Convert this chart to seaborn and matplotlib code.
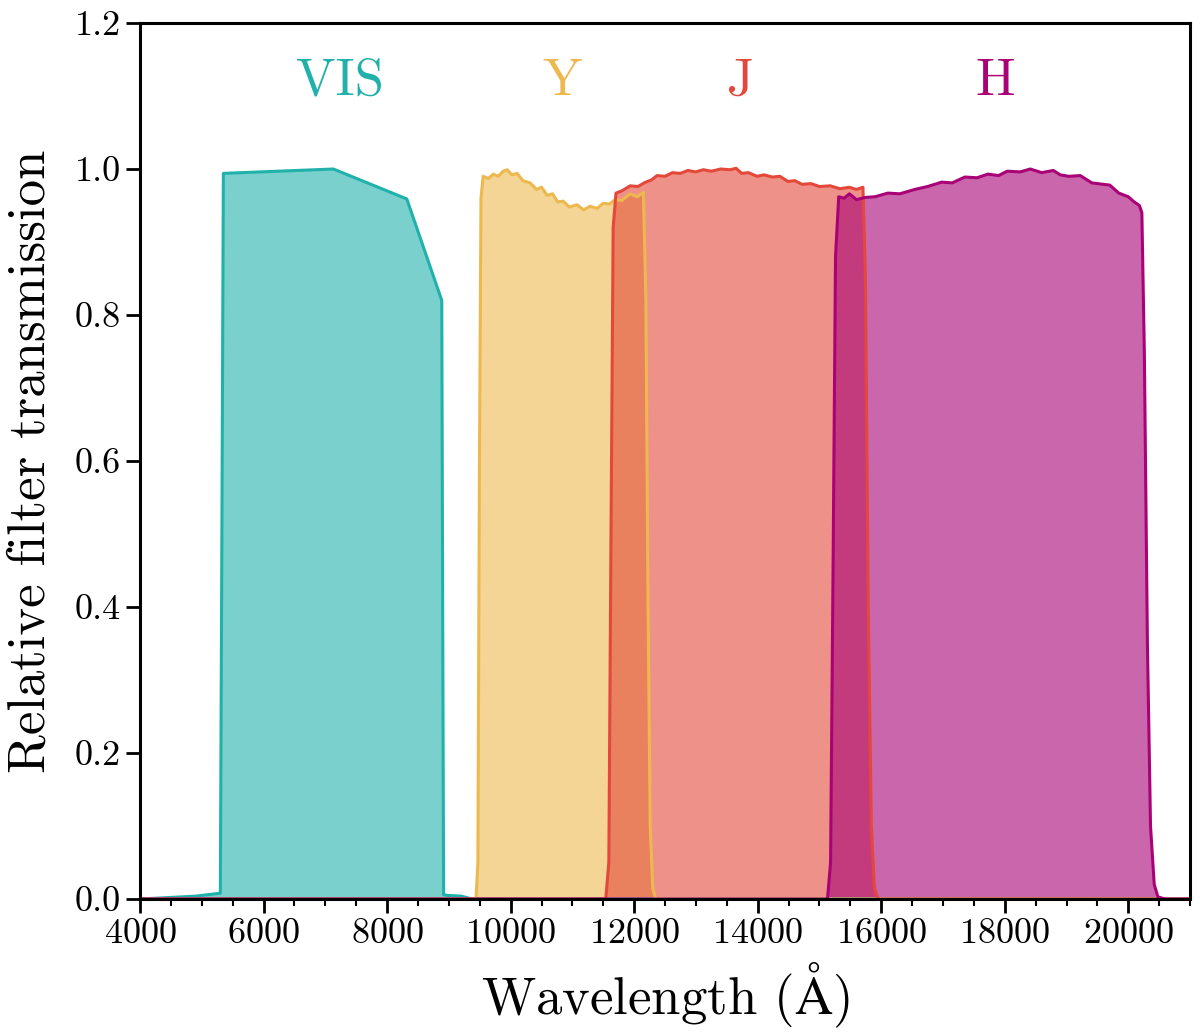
import numpy as np
import matplotlib
matplotlib.use('Agg')
import matplotlib.pyplot as plt
import seaborn as sns

# filter curves (wavelength in Angstrom, relative transmission)
vis_wave = [4000, 4450, 4900, 5300, 5325, 5349, 7130, 8319, 8885, 8900, 8915, 8975, 9200, 9380, 21000]
vis_trans = [0.0, 0.002, 0.004, 0.008, 0.5, 0.994, 1.000, 0.959, 0.820, 0.4, 0.006, 0.005, 0.004, 0.0, 0.0]

y_wave = [4000, 9440, 9470, 9495, 9520, 9555, 9640, 9720, 9800, 9880, 9943, 10020, 10105, 10200, 10316,
          10420, 10500, 10591, 10680, 10760, 10850, 10950, 11077, 11180, 11287, 11400, 11498, 11600,
          11692, 11800, 11935, 12050, 12150, 12190, 12225, 12260, 12300, 12350, 21000]
y_trans = [0.0, 0.0, 0.05, 0.6, 0.96, 0.990, 0.987, 0.993, 0.990, 0.997, 0.999, 0.992, 0.994, 0.984, 0.981,
           0.972, 0.975, 0.964, 0.966, 0.955, 0.956, 0.948, 0.951, 0.944, 0.949, 0.946, 0.953, 0.952,
           0.958, 0.957, 0.966, 0.962, 0.968, 0.82, 0.40, 0.10, 0.015, 0.0, 0.0]

j_wave = [4000, 11540, 11590, 11625, 11660, 11706, 11800, 11935, 12060, 12185, 12280, 12371, 12500,
          12620, 12745, 12870, 12994, 13120, 13250, 13400, 13555, 13650, 13741, 13850, 13990, 14100,
          14240, 14360, 14489, 14600, 14720, 14863, 15000, 15174, 15330, 15485, 15600, 15704, 15745,
          15790, 15840, 15890, 15950, 21000]
j_trans = [0.0, 0.0, 0.05, 0.5, 0.92, 0.967, 0.970, 0.977, 0.976, 0.982, 0.985, 0.991, 0.990,
           0.995, 0.994, 0.998, 0.996, 0.999, 0.997, 1.000, 0.999, 1.001, 0.994, 0.995, 0.990, 0.992,
           0.989, 0.990, 0.983, 0.984, 0.979, 0.980, 0.976, 0.977, 0.973, 0.975, 0.972, 0.975, 0.85,
           0.40, 0.10, 0.015, 0.0, 0.0]

h_wave = [4000, 15130, 15180, 15220, 15260, 15312, 15400, 15485, 15600, 15734, 15900, 16108, 16300,
          16544, 16750, 16980, 17150, 17354, 17550, 17728, 17900, 18039, 18250, 18413, 18599, 18785,
          18900, 19036, 19223, 19409, 19595, 19700, 19846, 20000, 20094, 20180, 20220, 20260, 20310,
          20360, 20420, 20480, 20600, 21000]
h_trans = [0.0, 0.0, 0.05, 0.45, 0.88, 0.962, 0.960, 0.966, 0.958, 0.961, 0.962, 0.967, 0.966,
           0.972, 0.976, 0.982, 0.981, 0.989, 0.988, 0.993, 0.991, 0.997, 0.996, 1.000, 0.995, 0.998,
           0.992, 0.990, 0.991, 0.981, 0.979, 0.978, 0.967, 0.962, 0.955, 0.950, 0.94, 0.75, 0.35,
           0.10, 0.02, 0.003, 0.0, 0.0]

names = ['VIS', 'Y', 'J', 'H']
colours = ['#20b2aa', '#edb94e', '#e3483a', '#a80276']
label_x = [7240, 10830, 13720, 17850]
label_y = 1.12

sns.set_style('ticks')
plt.rcParams['font.family'] = 'serif'
plt.rcParams['font.serif'] = ['cmr10', 'DejaVu Serif']
plt.rcParams['mathtext.fontset'] = 'cm'
plt.rcParams['axes.formatter.use_mathtext'] = True
plt.rcParams['text.color'] = 'black'
plt.rcParams['axes.labelcolor'] = 'black'
plt.rcParams['xtick.color'] = 'black'
plt.rcParams['ytick.color'] = 'black'
plt.rcParams['axes.edgecolor'] = 'black'

fig = plt.figure(figsize=(12, 10.36), dpi=100)
ax = fig.add_axes([0.1167, 0.1322, 0.875, 0.8456])

curves = [(vis_wave, vis_trans), (y_wave, y_trans), (j_wave, j_trans), (h_wave, h_trans)]
for (w, t), c in zip(curves, colours):
    ax.fill_between(w, t, 0, color=c, alpha=0.6, linewidth=0)
    sns.lineplot(x=w, y=t, color=c, lw=2.2, ax=ax, sort=False)

for n, c, lx in zip(names, colours, label_x):
    ax.text(lx, label_y, n, color=c, fontsize=38, ha='center', va='center')

ax.set_xlim(4000, 21000)
ax.set_ylim(0, 1.2)
ax.set_xticks(np.arange(4000, 20001, 2000))
ax.set_xticks(np.arange(4000, 21001, 500), minor=True)
ax.set_yticks(np.arange(0, 1.21, 0.2))
ax.yaxis.set_major_formatter(matplotlib.ticker.FormatStrFormatter('%.1f'))
ax.tick_params(axis='both', which='major', length=10, width=2, labelsize=26, direction='out')
ax.tick_params(axis='x', which='minor', length=5, width=1.5, direction='out')
ax.tick_params(axis='y', pad=4)
ax.tick_params(axis='x', pad=4)
for s in ax.spines.values():
    s.set_linewidth(2.2)
    s.set_visible(True)

ax.set_xlabel(r'Wavelength ($\mathrm{\AA}$)', fontsize=38, labelpad=8)
ax.set_ylabel('Relative filter transmission', fontsize=38, labelpad=14)

fig.savefig('out.png', dpi=100)
